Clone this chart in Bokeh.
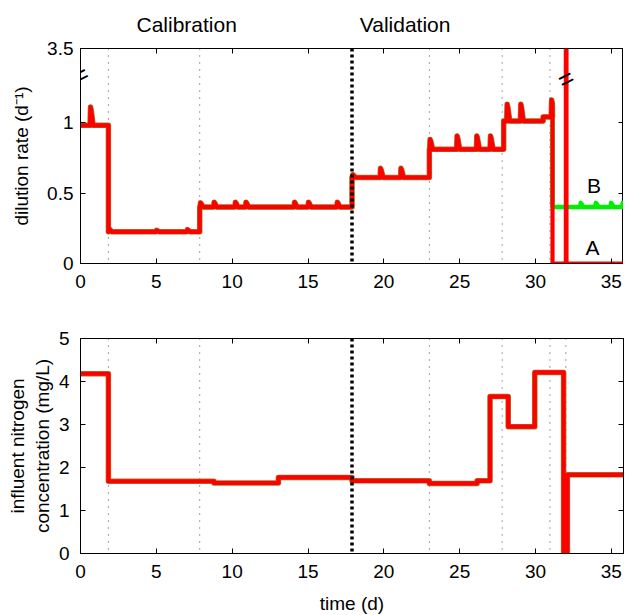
from bokeh.plotting import figure
from bokeh.layouts import column
from bokeh.models import Range1d, FixedTicker, SingleIntervalTicker, LinearAxis, Label, Span
from bokeh.core.properties import value
from bokeh.embed import file_html
from bokeh.resources import INLINE

FONT = "Liberation Sans"

# ---------------- data ----------------
# dilution rate (d^-1): part shared by scenarios A and B
dil_step_t = [0, 1.84, 7.86, 17.9, 23.0, 27.9, 30.5]
dil_level = [0.98, 0.225, 0.40, 0.61, 0.81, 1.01, 1.04]
dil_spike_t = [0.63, 1.86, 4.98, 7.02, 7.88, 8.78, 10.18, 10.88, 14.08, 15.0, 16.9,
               17.92, 19.75, 21.1, 23.02, 24.8, 26.1, 27.0, 28.1, 29.0, 31.03]
dil_spike_peak = [1.11, 0.245, 0.235, 0.24, 0.43, 0.435, 0.435, 0.435, 0.435, 0.435, 0.435,
                  0.63, 0.675, 0.675, 0.88, 0.905, 0.905, 0.905, 1.13, 1.13, 1.16]
dil_shared_end = 31.12

# scenario A: dilution stops, short peak (3.5 d^-1) at day 32
dilA_step_t = [31.12, 32.0, 32.04]
dilA_level = [0.0, 3.5, 0.0]
# scenario B: dilution kept at 0.4 d^-1
dilB_step_t = [31.12]
dilB_level = [0.40]
dilB_spike_t = [32.95, 33.95, 34.95, 35.72]
dilB_spike_peak = [0.43, 0.43, 0.43, 0.43]

# influent nitrogen concentration (mg/L)
nit_step_t = [0, 1.84, 8.8, 13.05, 17.9, 23.0, 26.15, 27.0, 28.2, 29.95, 31.85, 32.1]
nit_level = [4.18, 1.68, 1.64, 1.77, 1.69, 1.63, 1.69, 3.65, 2.95, 4.21, 0.0, 1.83]

t_end = 36.0
phase_t = [1.84, 7.86, 23.0, 27.8, 30.95, 32.0]     # thin dotted dividers
calib_valid_t = 17.9                                 # calibration / validation border

period_names = ["Calibration", "Validation"]
period_center_t = [7.0, 21.4]

scenario_names = ["A", "B"]
scenario_label_t = [33.75, 33.85]
scenario_label_y = [0.11, 0.55]

y_ticks_top = [0, 0.5, 1]
y_top_label = "3.5"

# ---------------- helpers ----------------
Y_BREAK = 1.33     # display position of the axis break
Y_TOP = 1.525      # display position of the top of the broken axis
Y_TOP_VAL = 3.5


def disp(y):
    """map a value onto the broken dilution-rate axis"""
    if y <= Y_BREAK:
        return y
    return Y_BREAK + (y - Y_BREAK) * (Y_TOP - Y_BREAK) / (Y_TOP_VAL - Y_BREAK)


def step_points(starts, levels, end, spk_t=(), spk_p=()):
    xs, ys = [], []
    for i, (s, lev) in enumerate(zip(starts, levels)):
        e = starts[i + 1] if i + 1 < len(starts) else end
        xs.append(s)
        ys.append(lev)
        for st, sp in zip(spk_t, spk_p):
            if s <= st < e:
                xs += [st, st + 0.03, st + 0.08, min(st + 0.2, e)]
                ys += [lev, sp, sp - 0.2 * (sp - lev), lev]
        xs.append(e)
        ys.append(lev)
    return xs, ys


sx, sy = step_points(dil_step_t, dil_level, dil_shared_end, dil_spike_t, dil_spike_peak)
ax_, ay_ = step_points(dilA_step_t, dilA_level, t_end)
bx_, by_ = step_points(dilB_step_t, dilB_level, t_end, dilB_spike_t, dilB_spike_peak)
A_x, A_y = sx + ax_, [disp(v) for v in sy + ay_]
B_x, B_y = sx + bx_, [disp(v) for v in sy + by_]
S_y = [disp(v) for v in sy]
N_x, N_y = step_points(nit_step_t, nit_level, t_end)

LEFT = 80
FW = 543
HEAD = 36
TITLE_CENTER = 23.5


def style_axis(ax, labels=True, label_standoff=12):
    ax.axis_line_color = "black"
    ax.axis_line_width = 1
    ax.major_tick_in = 5
    ax.major_tick_out = 0
    ax.major_tick_line_color = "black"
    ax.minor_tick_line_color = None
    ax.major_label_text_font = FONT
    ax.major_label_text_font_size = "19px"
    ax.major_label_text_color = "black"
    ax.major_label_standoff = 7
    ax.axis_label_text_font = FONT
    ax.axis_label_text_font_size = "19px"
    ax.axis_label_text_font_style = "normal"
    ax.axis_label_text_color = "black"
    ax.axis_label_standoff = label_standoff
    if not labels:
        ax.major_label_text_font_size = "1px"
        ax.major_label_text_color = None
        ax.major_label_standoff = 0


def make_fig(y_range, top, bottom):
    p = figure(frame_width=FW, frame_height=215, x_range=Range1d(0, 35.8), y_range=y_range,
               output_backend="svg", toolbar_location=None,
               min_border_left=LEFT, min_border_right=0, min_border_top=top, min_border_bottom=bottom)
    p.xgrid.visible = False
    p.ygrid.visible = False
    p.outline_line_color = "black"
    p.background_fill_color = "white"
    p.border_fill_color = "white"
    return p


def add_dividers(p):
    for t in phase_t:
        p.add_layout(Span(location=t, dimension="height", line_color="#444444", line_width=1,
                          line_dash="1 6", level="underlay"))
    p.add_layout(Span(location=calib_valid_t, dimension="height", line_color="black",
                      line_width=3.5, line_dash="3 3"))


# ---------------- header with the period names ----------------
p0 = figure(frame_width=FW, frame_height=HEAD, x_range=Range1d(0, 35.8), y_range=Range1d(0, HEAD),
            output_backend="svg", toolbar_location=None, x_axis_type=None, y_axis_type=None,
            min_border_left=LEFT, min_border_right=0, min_border_top=0, min_border_bottom=0)
p0.xgrid.visible = False
p0.ygrid.visible = False
p0.outline_line_color = None
p0.text(x=period_center_t, y=[HEAD - TITLE_CENTER] * 2, text=period_names, text_align="center",
        text_baseline="middle", text_font=value(FONT), text_font_size="21px",
        text_color="black")

# ---------------- top panel ----------------
p1 = make_fig(Range1d(0, Y_TOP), 48 - HEAD, 37)
add_dividers(p1)
p1.line(B_x, B_y, line_color="#00ee00", line_width=4.5, line_join="round")
p1.line(sx, S_y, line_color="#a8782a", line_width=5.5, line_join="round")
p1.line(A_x, A_y, line_color="#ff0000", line_width=4.2, line_join="round")

style_axis(p1.xaxis[0])
p1.xaxis[0].ticker = SingleIntervalTicker(interval=5)
style_axis(p1.yaxis[0])
p1.yaxis[0].ticker = FixedTicker(ticks=y_ticks_top + [Y_TOP])
p1.yaxis[0].major_label_overrides = {Y_TOP: y_top_label}
p1.yaxis[0].axis_label = "dilution rate (d\u207b\u00b9)"

ax_top = LinearAxis(ticker=SingleIntervalTicker(interval=5))
style_axis(ax_top, labels=False)
p1.add_layout(ax_top, "above")
ax_right = LinearAxis(ticker=FixedTicker(ticks=y_ticks_top))
style_axis(ax_right, labels=False)
p1.add_layout(ax_right, "right")

for xb, yb in [(0, 1.335), (32.0, 1.31)]:
    p1.add_layout(Label(x=xb, y=yb, text="=", angle=0.47, text_align="center",
                        text_baseline="middle", text_font=FONT,
                        text_font_size="26px", text_color="black"))

p1.text(x=scenario_label_t, y=scenario_label_y, text=scenario_names, text_align="center",
        text_baseline="middle", text_font=value(FONT), text_font_size="21px", text_color="black")

# ---------------- bottom panel ----------------
p2 = make_fig(Range1d(0, 5), 38, 62)
add_dividers(p2)
p2.line(N_x, N_y, line_color="#a8782a", line_width=5.5, line_join="round")
p2.line(N_x, N_y, line_color="#ff0000", line_width=4.2, line_join="round")

style_axis(p2.xaxis[0])
p2.xaxis[0].ticker = SingleIntervalTicker(interval=5)
p2.xaxis[0].axis_label = "time (d)"
style_axis(p2.yaxis[0], label_standoff=3)
p2.yaxis[0].ticker = SingleIntervalTicker(interval=1)
p2.yaxis[0].axis_label = "influent nitrogen\nconcentration (mg/L)"

ax_top2 = LinearAxis(ticker=SingleIntervalTicker(interval=5))
style_axis(ax_top2, labels=False)
p2.add_layout(ax_top2, "above")
ax_right2 = LinearAxis(ticker=SingleIntervalTicker(interval=1))
style_axis(ax_right2, labels=False)
p2.add_layout(ax_right2, "right")

layout = column(p0, p1, p2, spacing=0)
open("out.html", "w").write(file_html(layout, INLINE))
